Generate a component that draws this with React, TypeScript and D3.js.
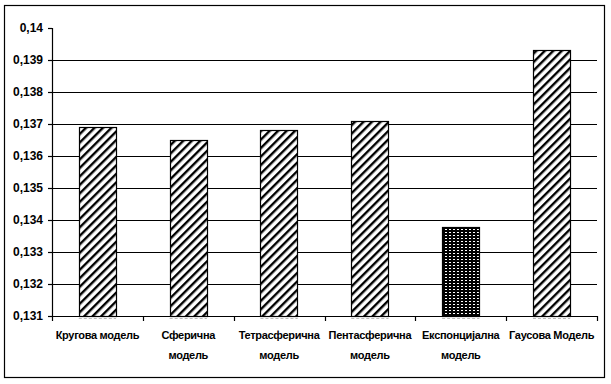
import React from "react";
import * as d3 from "d3";

const categories: string[][] = [
  ["Кругова модель"],
  ["Сферична", "модель"],
  ["Тетрасферична", "модель"],
  ["Пентасферична", "модель"],
  ["Експонцијална", "модель"],
  ["Гаусова Модель"],
];
const values: number[] = [0.13691, 0.1365, 0.13681, 0.13709, 0.13378, 0.13931];
const patterns: string[] = ["hatch", "hatch", "hatch", "hatch", "dots", "hatch"];
const yTicks: number[] = [0.131, 0.132, 0.133, 0.134, 0.135, 0.136, 0.137, 0.138, 0.139, 0.14];
const yTickLabels: string[] = ["0,131", "0,132", "0,133", "0,134", "0,135", "0,136", "0,137", "0,138", "0,139", "0,14"];

const W = 611;
const H = 384;
const left = 52;
const right = 597;
const top = 28;
const bottom = 316;

export default function App() {
  const x = d3
    .scaleBand<number>()
    .domain(d3.range(categories.length))
    .range([left, right])
    .paddingInner(0)
    .paddingOuter(0);
  const y = d3.scaleLinear().domain([0.131, 0.14]).range([bottom, top]);
  const bw = x.bandwidth() * 0.41;
  const font = "'Liberation Sans Narrow', 'Arial Narrow', 'Liberation Sans', Arial, sans-serif";

  return (
    <svg
      width={W}
      height={H}
      style={{ position: "absolute", left: 0, top: 0, background: "#fff" }}
    >
      <defs>
        <pattern id="hatch" width="6" height="6" patternUnits="userSpaceOnUse" patternTransform="rotate(45)">
          <rect width="6" height="6" fill="#fff" />
          <rect x="0" y="0" width="2.4" height="6" fill="#000" />
        </pattern>
        <pattern id="dots" width="4" height="3" patternUnits="userSpaceOnUse">
          <rect width="4" height="3" fill="#000" />
          <rect x="1" y="1" width="2" height="1" fill="#fff" />
        </pattern>
      </defs>
      <rect x={4.5} y={5.5} width={600} height={372} fill="#fff" stroke="#000" strokeWidth={1.2} />
      {yTicks.slice(1, -1).map((t) => (
        <line key={t} x1={left} x2={right} y1={Math.round(y(t)) + 0.5} y2={Math.round(y(t)) + 0.5} stroke="#000" strokeWidth={1.2} />
      ))}
      {values.map((v, i) => {
        const cx = (x(i) as number) + x.bandwidth() / 2;
        const yt = y(v);
        return (
          <g key={i}>
            <line x1={cx - bw / 2} x2={cx + bw / 2} y1={bottom + 2.5} y2={bottom + 2.5} stroke="#bbb" strokeDasharray="3,2" />
            <rect
              x={Math.round(cx - bw / 2) + 0.5}
              y={Math.round(yt) + 0.5}
              width={Math.round(bw)}
              height={bottom - Math.round(yt)}
              fill={`url(#${patterns[i]})`}
              stroke="#000"
              strokeWidth={1.2}
            />
          </g>
        );
      })}
      <line x1={left + 0.5} x2={left + 0.5} y1={top} y2={bottom} stroke="#000" strokeWidth={1.2} />
      {yTicks.map((t, i) => (
        <g key={t}>
          <line x1={left - 4} x2={left} y1={Math.round(y(t)) + 0.5} y2={Math.round(y(t)) + 0.5} stroke="#000" strokeWidth={1.2} />
          <text
            x={left - 9}
            y={y(t)}
            dy="0.35em"
            textAnchor="end"
            fontFamily={font}
            fontWeight="bold"
            fontSize={12}
            fill="#000"
          >
            {yTickLabels[i]}
          </text>
        </g>
      ))}
      <line x1={left} x2={right} y1={bottom + 0.5} y2={bottom + 0.5} stroke="#000" strokeWidth={1.2} />
      {d3.range(categories.length + 1).map((i) => {
        const xx = i < categories.length ? (x(i) as number) : right;
        return <line key={i} x1={Math.round(xx) + 0.5} x2={Math.round(xx) + 0.5} y1={bottom} y2={bottom + 5} stroke="#000" strokeWidth={1.2} />;
      })}
      {categories.map((lines, i) => {
        const cx = (x(i) as number) + x.bandwidth() / 2;
        return (
          <text key={i} x={cx} y={335} textAnchor="middle" fontFamily={font} fontWeight="bold" fontSize={11} fill="#000" letterSpacing={-0.3}>
            {lines.map((l, j) => (
              <tspan key={j} x={cx} y={335 + j * 20} dy="0.35em">
                {l}
              </tspan>
            ))}
          </text>
        );
      })}
    </svg>
  );
}
